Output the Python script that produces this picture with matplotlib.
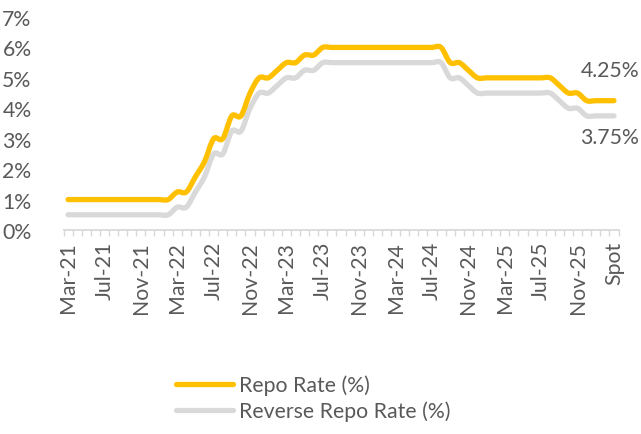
import matplotlib
matplotlib.use("Agg")
import matplotlib.pyplot as plt
from matplotlib.ticker import FixedLocator, FuncFormatter
from matplotlib.path import Path
from matplotlib.patches import PathPatch
from matplotlib.lines import Line2D

plt.rcParams['font.family'] = ['Lato', 'DejaVu Sans']

categories = [
    "Mar-21", "Apr-21", "May-21", "Jun-21", "Jul-21", "Aug-21", "Sep-21", "Oct-21",
    "Nov-21", "Dec-21", "Jan-22", "Feb-22", "Mar-22", "Apr-22", "May-22", "Jun-22",
    "Jul-22", "Aug-22", "Sep-22", "Oct-22", "Nov-22", "Dec-22", "Jan-23", "Feb-23",
    "Mar-23", "Apr-23", "May-23", "Jun-23", "Jul-23", "Aug-23", "Sep-23", "Oct-23",
    "Nov-23", "Dec-23", "Jan-24", "Feb-24", "Mar-24", "Apr-24", "May-24", "Jun-24",
    "Jul-24", "Aug-24", "Sep-24", "Oct-24", "Nov-24", "Dec-24", "Jan-25", "Feb-25",
    "Mar-25", "Apr-25", "May-25", "Jun-25", "Jul-25", "Aug-25", "Sep-25", "Oct-25",
    "Nov-25", "Dec-25", "Jan-26", "Feb-26", "Spot",
]

repo_rate = [
    1.00, 1.00, 1.00, 1.00, 1.00, 1.00, 1.00, 1.00,
    1.00, 1.00, 1.00, 1.00, 1.25, 1.25, 1.75, 2.25,
    3.00, 3.00, 3.75, 3.75, 4.50, 5.00, 5.00, 5.25,
    5.50, 5.50, 5.75, 5.75, 6.00, 6.00, 6.00, 6.00,
    6.00, 6.00, 6.00, 6.00, 6.00, 6.00, 6.00, 6.00,
    6.00, 6.00, 5.50, 5.50, 5.25, 5.00, 5.00, 5.00,
    5.00, 5.00, 5.00, 5.00, 5.00, 5.00, 4.75, 4.50,
    4.50, 4.25, 4.25, 4.25, 4.25,
]

reverse_repo_rate = [
    0.50, 0.50, 0.50, 0.50, 0.50, 0.50, 0.50, 0.50,
    0.50, 0.50, 0.50, 0.50, 0.75, 0.75, 1.25, 1.75,
    2.50, 2.50, 3.25, 3.25, 4.00, 4.50, 4.50, 4.75,
    5.00, 5.00, 5.25, 5.25, 5.50, 5.50, 5.50, 5.50,
    5.50, 5.50, 5.50, 5.50, 5.50, 5.50, 5.50, 5.50,
    5.50, 5.50, 5.00, 5.00, 4.75, 4.50, 4.50, 4.50,
    4.50, 4.50, 4.50, 4.50, 4.50, 4.50, 4.25, 4.00,
    4.00, 3.75, 3.75, 3.75, 3.75,
]

y_ticks = [0, 1, 2, 3, 4, 5, 6, 7]
series_names = ["Repo Rate (%)", "Reverse Repo Rate (%)"]

YELLOW = "#FFC000"
GREY = "#D9D9D9"
TEXT = "#595959"
FS = 15.3
LW = 3.8

W, H = 641, 435
fig = plt.figure(figsize=(W / 100, H / 100), dpi=100)
ax = fig.add_axes([63.5 / W, 1 - 231 / H, (618.5 - 63.5) / W, (231 - 18) / H])

x = list(range(len(categories)))


def smooth_path(xs, ys):
    """Excel-style smoothed line: cubic Bezier through every data point."""
    n = len(xs)
    verts = [(xs[0], ys[0])]
    codes = [Path.MOVETO]
    for i in range(n - 1):
        i0 = max(i - 1, 0)
        i3 = min(i + 2, n - 1)
        c1 = (xs[i] + (xs[i + 1] - xs[i0]) / 6.0, ys[i] + (ys[i + 1] - ys[i0]) / 6.0)
        c2 = (xs[i + 1] - (xs[i3] - xs[i]) / 6.0, ys[i + 1] - (ys[i3] - ys[i]) / 6.0)
        verts += [c1, c2, (xs[i + 1], ys[i + 1])]
        codes += [Path.CURVE4, Path.CURVE4, Path.CURVE4]
    return Path(verts, codes)


ax.add_patch(PathPatch(smooth_path(x, reverse_repo_rate), facecolor='none', edgecolor=GREY,
                       lw=LW, joinstyle='round', capstyle='round', zorder=2))
ax.add_patch(PathPatch(smooth_path(x, repo_rate), facecolor='none', edgecolor=YELLOW,
                       lw=LW, joinstyle='round', capstyle='round', zorder=3))

ax.set_xlim(-0.5, len(categories) - 0.5)
ax.set_ylim(0, 7)

for s in ['top', 'right', 'left']:
    ax.spines[s].set_visible(False)
ax.spines['bottom'].set_color(GREY)
ax.spines['bottom'].set_linewidth(1.3)

ax.set_yticks(y_ticks)
ax.yaxis.set_major_formatter(FuncFormatter(lambda v, p: f"{v:.0f}%"))
ax.tick_params(axis='y', length=0, pad=23, labelsize=FS, labelcolor=TEXT)

label_idx = list(range(0, len(categories), 4))
ax.set_xticks(label_idx)
ax.set_xticklabels([categories[i] for i in label_idx], rotation=90)
ax.xaxis.set_minor_locator(FixedLocator([i - 0.5 for i in range(len(categories) + 1)]))
ax.tick_params(axis='x', which='major', length=0, pad=8, labelsize=FS, labelcolor=TEXT)
ax.tick_params(axis='x', which='minor', length=4.5, width=1.0, color=GREY, direction='out')

last = len(categories) - 1
ax.annotate(f"{repo_rate[last]:.2f}%", (last, repo_rate[last]), xytext=(-3, 22),
            textcoords='offset points', ha='center', va='center', fontsize=FS,
            color=TEXT, annotation_clip=False)
ax.annotate(f"{reverse_repo_rate[last]:.2f}%", (last, reverse_repo_rate[last]), xytext=(-3, -15.5),
            textcoords='offset points', ha='center', va='center', fontsize=FS,
            color=TEXT, annotation_clip=False)

handles = [Line2D([], [], color=YELLOW, lw=LW, solid_capstyle='round'),
           Line2D([], [], color=GREY, lw=LW, solid_capstyle='round')]
fig.legend(handles=handles, labels=series_names, loc='upper left',
           bbox_to_anchor=(161 / W, 1 - 361 / H),
           frameon=False, fontsize=FS, labelcolor=TEXT, handlelength=2.7,
           handletextpad=0.25, labelspacing=0.25, borderpad=0.2)

fig.savefig("out.png", dpi=100)
